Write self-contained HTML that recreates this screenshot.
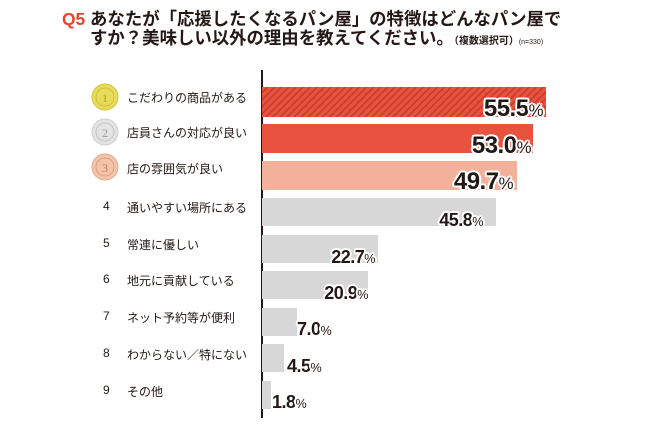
<!DOCTYPE html>
<html><head><meta charset="utf-8"><style>
body{margin:0;background:#fff;width:648px;height:432px;overflow:hidden;position:relative;font-family:"Liberation Sans","Noto Sans CJK JP",sans-serif;}
.t{position:absolute;white-space:nowrap;color:#231815;}
.lab{position:absolute;left:127px;font-size:12px;color:#231815;white-space:nowrap;}
.num{position:absolute;left:103px;font-size:12px;color:#231815;}
.v{position:absolute;font-weight:bold;color:#231815;white-space:nowrap;text-align:right;letter-spacing:-0.5px;
 text-shadow:2px 0 #fff,-2px 0 #fff,0 2px #fff,0 -2px #fff,1.5px 1.5px #fff,-1.5px -1.5px #fff,1.5px -1.5px #fff,-1.5px 1.5px #fff;}
.v small{font-size:0.7em;font-weight:normal;}
</style></head><body>
<div class="t" style="left:62px;top:6px;font-size:17.4px;font-weight:bold;"><span style="color:#e8452f">Q5</span> あなたが「応援したくなるパン屋」の特徴はどんなパン屋で</div>
<div class="t" style="left:90px;top:25px;font-size:17.4px;font-weight:bold;">すか？美味しい以外の理由を教えてください。<span style="font-size:10px">（複数選択可）</span><span style="font-size:7px;font-weight:normal">(n=330)</span></div>
<div style="position:absolute;left:261px;top:70px;width:2px;height:348px;background:#231815"></div>

<svg style="position:absolute;left:0;top:0" width="648" height="432">
<defs><pattern id="h" width="5" height="5" patternUnits="userSpaceOnUse" patternTransform="rotate(45)"><rect width="5" height="5" fill="#e8533f"/><rect width="1.6" height="5" fill="#c93a2a"/></pattern></defs>
<rect x="262" y="87" width="284" height="30" fill="url(#h)"/>
<rect x="262" y="124" width="271" height="29" fill="#e8533f"/>
<rect x="262" y="161" width="255" height="29" fill="#f3b09b"/>
<g fill="#d7d7d7">
<rect x="262" y="198" width="234" height="28"/>
<rect x="262" y="235" width="116" height="28"/>
<rect x="262" y="271" width="106" height="28"/>
<rect x="262" y="308" width="35" height="28"/>
<rect x="262" y="344" width="22" height="28"/>
<rect x="262" y="381" width="9" height="28"/>
</g>
<g font-family="Liberation Serif,serif" font-size="12" text-anchor="middle">
<circle cx="105" cy="97" r="13" fill="#e7dc5a" stroke="#d2c43a"/><circle cx="105" cy="97" r="9" fill="none" stroke="#c9b830" stroke-width="0.8"/><text x="105" y="102" fill="#b19f22">1</text>
<circle cx="105" cy="132" r="13" fill="#e3e3e3" stroke="#cfcfcf"/><circle cx="105" cy="132" r="9" fill="none" stroke="#bbb" stroke-width="0.8"/><text x="105" y="137" fill="#999">2</text>
<circle cx="105" cy="167" r="13" fill="#f3c4aa" stroke="#e6a888"/><circle cx="105" cy="167" r="9" fill="none" stroke="#d99574" stroke-width="0.8"/><text x="105" y="172" fill="#c9795a">3</text>
</g>
</svg>

<div class="lab" style="top:89px">こだわりの商品がある</div>
<div class="lab" style="top:124px">店員さんの対応が良い</div>
<div class="lab" style="top:160px">店の雰囲気が良い</div>
<div class="num" style="top:199px">4</div><div class="lab" style="top:199px">通いやすい場所にある</div>
<div class="num" style="top:236px">5</div><div class="lab" style="top:236px">常連に優しい</div>
<div class="num" style="top:272px">6</div><div class="lab" style="top:272px">地元に貢献している</div>
<div class="num" style="top:309px">7</div><div class="lab" style="top:309px">ネット予約等が便利</div>
<div class="num" style="top:346px">8</div><div class="lab" style="top:346px">わからない／特にない</div>
<div class="num" style="top:383px">9</div><div class="lab" style="top:383px">その他</div>

<div class="v" style="right:105px;top:95px;font-size:24px">55.5<small>%</small></div>
<div class="v" style="right:117px;top:132px;font-size:24px">53.0<small>%</small></div>
<div class="v" style="right:135px;top:168px;font-size:24px">49.7<small>%</small></div>
<div class="v" style="right:165px;top:210px;font-size:18px">45.8<small>%</small></div>
<div class="v" style="right:273px;top:247px;font-size:18px">22.7<small>%</small></div>
<div class="v" style="right:280px;top:283px;font-size:18px">20.9<small>%</small></div>
<div class="v" style="left:297px;top:319px;font-size:18px">7.0<small>%</small></div>
<div class="v" style="left:287px;top:356px;font-size:18px">4.5<small>%</small></div>
<div class="v" style="left:272px;top:392px;font-size:18px">1.8<small>%</small></div>
</body></html>
